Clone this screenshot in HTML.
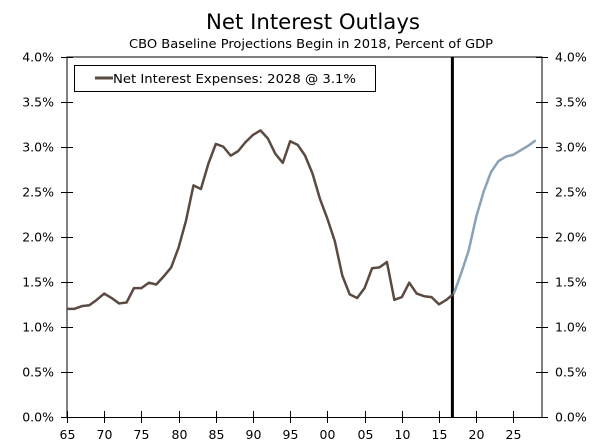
<!DOCTYPE html>
<html><head><meta charset="utf-8"><style>
body{margin:0;background:#fff;width:600px;height:443px;overflow:hidden;font-family:"DejaVu Sans","Liberation Sans",sans-serif}
</style></head><body>
<svg width="600" height="443">
<text x="313" y="29" text-anchor="middle" font-size="21" textLength="214" lengthAdjust="spacingAndGlyphs" fill="#000">Net Interest Outlays</text>
<text x="311" y="48" text-anchor="middle" font-size="12.5" textLength="364" lengthAdjust="spacingAndGlyphs" fill="#000">CBO Baseline Projections Begin in 2018, Percent of GDP</text>
<g id="axes"></g>
<g id="marks"></g>
<g>
<rect x="74.5" y="65.5" width="301" height="26" fill="#fff" stroke="#000"/>
<line x1="95" y1="78" x2="113" y2="78" stroke="#5a4a42" stroke-width="3"/>
<text x="113" y="83" font-size="12.5" textLength="243" lengthAdjust="spacingAndGlyphs">Net Interest Expenses: 2028 @ 3.1%</text>
</g>
</svg>
<script>
const histYears=[1965,1966,1967,1968,1969,1970,1971,1972,1973,1974,1975,1976,1977,1978,1979,1980,1981,1982,1983,1984,1985,1986,1987,1988,1989,1990,1991,1992,1993,1994,1995,1996,1997,1998,1999,2000,2001,2002,2003,2004,2005,2006,2007,2008,2009,2010,2011,2012,2013,2014,2015,2016,2017];
const histValues=[1.2,1.2,1.23,1.24,1.3,1.37,1.32,1.26,1.27,1.43,1.43,1.49,1.47,1.56,1.66,1.88,2.18,2.57,2.53,2.81,3.03,3.0,2.9,2.95,3.05,3.13,3.18,3.09,2.92,2.82,3.06,3.02,2.9,2.7,2.42,2.2,1.95,1.57,1.36,1.32,1.43,1.65,1.66,1.72,1.3,1.33,1.49,1.37,1.34,1.33,1.25,1.3,1.37];
const projYears=[2017,2018,2019,2020,2021,2022,2023,2024,2025,2026,2027,2028];
const projValues=[1.37,1.6,1.85,2.22,2.5,2.72,2.84,2.89,2.91,2.96,3.01,3.07];
const yTicks=[0,0.5,1,1.5,2,2.5,3,3.5,4];
const xTickYears=[1965,1970,1975,1980,1985,1990,1995,2000,2005,2010,2015,2020,2025];
const xTickLabels=["65","70","75","80","85","90","95","00","05","10","15","20","25"];
const baselineYear=2016.8;

const X0=67,PX=7.44,Y0=417,PY=(417-56.5)/4;
const x=v=>X0+(v-1965)*PX, y=v=>Y0-v*PY;
const NS="http://www.w3.org/2000/svg";
function mk(tag,at,parent){const e=document.createElementNS(NS,tag);for(const k in at)e.setAttribute(k,at[k]);parent.appendChild(e);return e;}
const ax=document.getElementById('axes'),mg=document.getElementById('marks');
const L=x(1965),R=x(1965)+475;
let e;
e=mk('line',{x1:L,y1:y(4),x2:L,y2:Y0,stroke:'#000'},ax);


e=mk('line',{x1:R,y1:y(4),x2:R,y2:Y0,stroke:'#000'},ax);


e=mk('line',{x1:L,y1:Y0+0.5,x2:R,y2:Y0+0.5,stroke:'#000'},ax);


e=mk('line',{x1:L,y1:y(4)+0.5,x2:R,y2:y(4)+0.5,stroke:'#000'},ax);


yTicks.forEach(v=>{
 const yy=Math.round(y(v))+0.5;
 mk('line',{x1:L-6,y1:yy,x2:L+6,y2:yy,stroke:'#000'},ax);
 mk('line',{x1:R-6,y1:yy,x2:R+6,y2:yy,stroke:'#000'},ax);
 e=mk('text',{x:L-13,y:yy+4,'text-anchor':'end','font-size':12.5},ax);e.textContent=v.toFixed(1)+'%';
 
 
 e=mk('text',{x:R+13,y:yy+4,'font-size':12.5},ax);e.textContent=v.toFixed(1)+'%';
 
 
});
xTickYears.forEach((v,i)=>{
 const xx=Math.round(x(v))+0.5;
 mk('line',{x1:xx,y1:Y0-6,x2:xx,y2:Y0+6,stroke:'#000'},ax);
 e=mk('text',{x:xx,y:Y0+22,'text-anchor':'middle','font-size':12.5},ax);e.textContent=xTickLabels[i];
 
 
});
e=mk('line',{x1:x(baselineYear),y1:y(4),x2:x(baselineYear),y2:Y0,stroke:'#000','stroke-width':3},mg);


e=mk('polyline',{points:projYears.map((t,i)=>x(t)+','+y(projValues[i])).join(' '),fill:'none',stroke:'#8aa2b6','stroke-width':2.5,'stroke-linejoin':'round'},mg);


e=mk('polyline',{points:histYears.map((t,i)=>x(t)+','+y(histValues[i])).join(' '),fill:'none',stroke:'#5a4a42','stroke-width':2.5,'stroke-linejoin':'round'},mg);


</script>
</body></html>
